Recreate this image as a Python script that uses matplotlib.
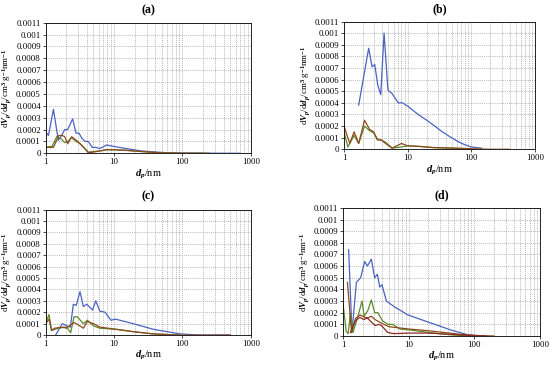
import matplotlib
matplotlib.use("Agg")
import matplotlib.pyplot as plt
from matplotlib.ticker import FixedLocator, FixedFormatter, LogLocator, NullFormatter

plt.rcParams['font.family'] = ['Liberation Serif', 'DejaVu Serif']
plt.rcParams['mathtext.fontset'] = 'custom'
plt.rcParams['mathtext.rm'] = 'Liberation Serif:bold'
plt.rcParams['mathtext.it'] = 'Liberation Serif:italic:bold'
plt.rcParams['mathtext.bf'] = 'Liberation Serif:bold'

# y values in units of 1e-4 cm3/g/nm
a_blue_x = [1.0, 1.1, 1.3, 1.53, 1.75, 1.9, 2.1, 2.48, 2.78, 3.07, 3.36, 3.76, 4.2, 4.8, 5.4, 6.2, 7.8, 9.5, 15, 25, 42, 60, 100, 200, 700]
a_blue_y = [1.8, 1.5, 3.7, 1.1, 1.6, 2.0, 2.0, 2.9, 1.7, 1.7, 1.3, 1.0, 1.0, 0.5, 0.5, 0.4, 0.7, 0.6, 0.4, 0.2, 0.1, 0.05, 0.02, 0.01, 0.0]
a_green_x = [1.0, 1.25, 1.45, 1.7, 1.9, 2.1, 2.4, 2.8, 3.2, 3.6, 4.2, 5, 6.2, 7.8, 10, 15, 25, 40, 60, 100, 200]
a_green_y = [0.5, 0.6, 1.4, 1.2, 0.9, 1.0, 1.3, 1.0, 0.8, 0.5, 0.1, 0.15, 0.2, 0.3, 0.3, 0.25, 0.15, 0.07, 0.02, 0.0, 0.0]
a_brown_x = [1.0, 1.3, 1.55, 1.75, 1.9, 2.1, 2.4, 2.8, 3.2, 3.6, 4.2, 5, 6.2, 7.8, 10, 15, 25, 40, 60, 100, 250]
a_brown_y = [0.5, 0.5, 1.5, 1.5, 1.4, 0.8, 1.4, 1.1, 0.8, 0.5, 0.05, 0.1, 0.2, 0.3, 0.3, 0.25, 0.15, 0.07, 0.03, 0.01, 0.0]

b_blue_x = [1.7, 2.0, 2.44, 2.76, 3.04, 3.4, 3.78, 4.26, 4.9, 5.7, 7.1, 8.3, 10.1, 14.6, 20, 26.7, 35, 48.8, 65, 79, 100, 145]
b_blue_y = [3.8, 6.0, 8.7, 7.1, 7.3, 5.5, 4.7, 10.0, 5.1, 4.8, 4.0, 4.0, 3.7, 3.0, 2.5, 2.0, 1.5, 1.0, 0.6, 0.4, 0.2, 0.1]
b_green_x = [1.0, 1.15, 1.44, 1.7, 2.1, 2.53, 2.93, 3.34, 3.86, 4.5, 5.7, 8, 10, 15, 25, 50, 100]
b_green_y = [1.5, 0.2, 1.2, 0.5, 2.0, 1.6, 1.4, 0.9, 0.8, 0.6, 0.1, 0.2, 0.3, 0.25, 0.15, 0.1, 0.03]
b_brown_x = [1.0, 1.23, 1.44, 1.7, 2.1, 2.53, 2.93, 3.34, 3.86, 4.5, 5.7, 8, 10, 15, 25, 50, 100, 200, 400]
b_brown_y = [2.0, 0.5, 1.5, 0.5, 2.5, 1.7, 1.5, 0.8, 0.8, 0.5, 0.1, 0.5, 0.3, 0.25, 0.15, 0.1, 0.05, 0.0, 0.0]

c_blue_x = [1.4, 1.75, 2.05, 2.3, 2.54, 2.8, 3.18, 3.56, 4.0, 4.85, 5.4, 6.2, 7.4, 9.0, 10.5, 19, 38, 92, 180, 500]
c_blue_y = [0.0, 1.0, 0.8, 0.7, 2.7, 2.6, 3.8, 2.5, 2.7, 2.2, 3.0, 2.1, 2.0, 1.3, 1.4, 1.0, 0.5, 0.1, 0.0, 0.0]
c_green_x = [1.0, 1.12, 1.22, 1.53, 2.03, 2.32, 2.6, 2.9, 3.56, 4.07, 5.0, 6.2, 10.9, 19, 37.6, 92]
c_green_y = [1.0, 1.8, 0.4, 0.6, 0.7, 0.2, 1.6, 1.6, 1.0, 1.3, 0.8, 0.6, 0.5, 0.3, 0.1, 0.0]
c_brown_x = [1.0, 1.12, 1.22, 1.35, 1.8, 2.0, 2.6, 3.0, 3.56, 4.07, 5.0, 6.2, 10.9, 19, 37.6, 92, 500]
c_brown_y = [1.0, 1.4, 0.4, 0.6, 0.7, 0.6, 1.1, 0.9, 0.6, 1.2, 1.0, 0.7, 0.5, 0.3, 0.1, 0.0, 0.0]

d_blue_x = [1.22, 1.37, 1.6, 1.86, 2.14, 2.35, 2.7, 3.04, 3.34, 3.63, 3.93, 4.58, 6.1, 9.8, 19.8, 44.8, 80.5, 128]
d_blue_y = [7.4, 0.3, 4.6, 5.0, 6.4, 6.0, 6.6, 5.0, 5.3, 4.2, 4.4, 3.0, 2.5, 1.8, 1.2, 0.5, 0.1, 0.0]
d_green_x = [1.0, 1.12, 1.2, 1.3, 1.42, 1.69, 1.95, 2.1, 2.4, 2.7, 3.04, 3.4, 4.0, 4.86, 5.7, 7.4, 11, 20, 45, 80]
d_green_y = [2.8, 0.4, 0.2, 2.0, 0.3, 1.7, 3.0, 1.7, 2.2, 3.1, 2.0, 2.0, 1.3, 1.0, 1.0, 0.6, 0.5, 0.3, 0.1, 0.0]
d_brown_x = [1.17, 1.35, 1.55, 1.8, 2.0, 2.3, 2.7, 3.1, 3.6, 4.2, 5, 7, 10, 20, 35, 60, 100, 200]
d_brown_y = [4.6, 0.3, 1.5, 1.8, 1.7, 1.5, 1.7, 1.4, 1.2, 1.0, 0.8, 0.7, 0.6, 0.45, 0.3, 0.15, 0.05, 0.0]
d_red_x = [1.3, 1.55, 1.8, 2.1, 2.3, 2.7, 3.1, 3.6, 4.0, 4.8, 6, 10, 20, 40, 80, 150]
d_red_y = [0.3, 1.3, 1.6, 1.4, 1.6, 1.2, 0.9, 1.0, 0.8, 0.3, 0.2, 0.25, 0.25, 0.15, 0.05, 0.0]

y_ticks = [0, 1, 2, 3, 4, 5, 6, 7, 8, 9, 10, 11]
y_tick_labels = ['0', '0.0001', '0.0002', '0.0003', '0.0004', '0.0005', '0.0006',
                 '0.0007', '0.0008', '0.0009', '0.001', '0.0011']
x_ticks = [1, 10, 100, 1000]
x_tick_labels = ['1', '10', '100', '1000']

BLUE = '#4a64c2'
GREEN = '#5e8a2c'
BROWN = '#8c4a1e'
RED = '#8e2a22'

panels = [
    ('(a)', [0.083, 0.580, 0.373, 0.358],
     [(a_blue_x, a_blue_y, BLUE), (a_green_x, a_green_y, GREEN), (a_brown_x, a_brown_y, BROWN)]),
    ('(b)', [0.6255, 0.591, 0.347, 0.350],
     [(b_blue_x, b_blue_y, BLUE), (b_green_x, b_green_y, GREEN), (b_brown_x, b_brown_y, BROWN)]),
    ('(c)', [0.083, 0.082, 0.373, 0.344],
     [(c_blue_x, c_blue_y, BLUE), (c_green_x, c_green_y, GREEN), (c_brown_x, c_brown_y, BROWN)]),
    ('(d)', [0.6236, 0.0795, 0.358, 0.351],
     [(d_blue_x, d_blue_y, BLUE), (d_green_x, d_green_y, GREEN), (d_brown_x, d_brown_y, BROWN),
      (d_red_x, d_red_y, RED)]),
]

fig = plt.figure(figsize=(5.5, 3.65), dpi=100)

for title, rect, series in panels:
    ax = fig.add_axes(rect)
    for xs, ys, col in series:
        ax.plot(xs, [v * 1e-4 for v in ys], color=col, lw=0.9)
    ax.set_xscale('log')
    ax.set_xlim(1, 1000)
    ax.set_ylim(0, 0.0011)
    ax.xaxis.set_major_locator(FixedLocator(x_ticks))
    ax.xaxis.set_major_formatter(FixedFormatter(x_tick_labels))
    ax.xaxis.set_minor_locator(LogLocator(base=10, subs=range(2, 10)))
    ax.xaxis.set_minor_formatter(NullFormatter())
    ax.yaxis.set_major_locator(FixedLocator([v * 1e-4 for v in y_ticks]))
    ax.yaxis.set_major_formatter(FixedFormatter(y_tick_labels))
    ax.grid(True, which='both', axis='x', color='#a0a0a0', lw=0.5, ls=(0, (1.5, 1.5)))
    ax.grid(True, which='major', axis='y', color='#a0a0a0', lw=0.5, ls=(0, (1.5, 1.5)))
    ax.set_axisbelow(True)
    ax.tick_params(axis='both', which='major', labelsize=6.3, length=2, width=0.5, pad=1.5)
    ax.tick_params(axis='x', which='minor', length=0)
    for sp in ax.spines.values():
        sp.set_linewidth(0.6)
    ax.set_title(title, fontsize=8.5, fontweight='bold', pad=7)
    ax.set_xlabel(r'$d_p$/nm', fontsize=7.5, labelpad=1)
    ax.set_ylabel(r'd$V_p$/d$d_p$/cm$^3$ g$^{-1}$nm$^{-1}$', fontsize=6.5, labelpad=2)

fig.savefig('out.png', dpi=100)
